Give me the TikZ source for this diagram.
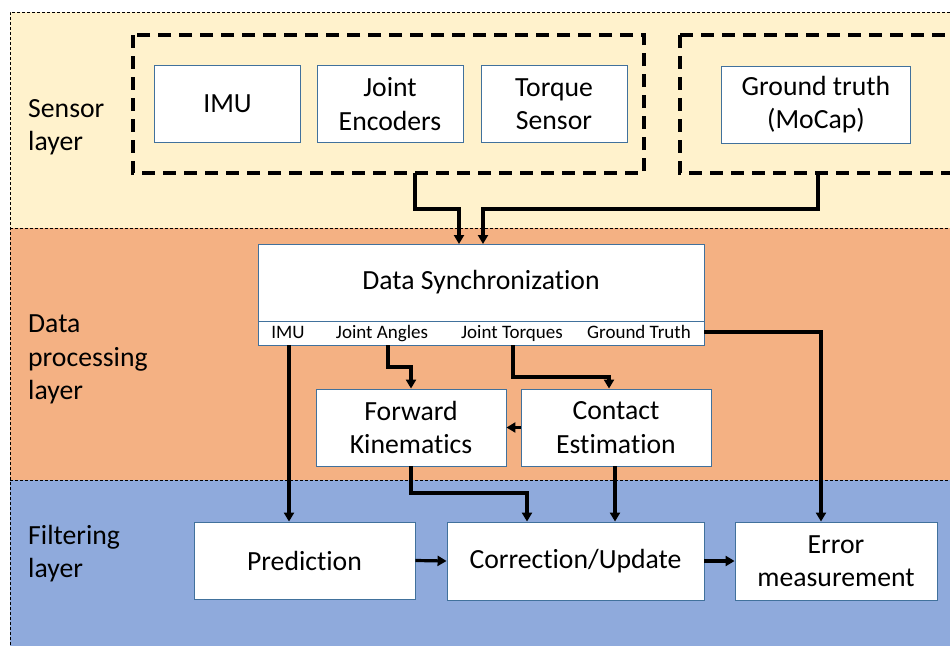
\documentclass[tikz,border=0pt]{standalone}
\usepackage{fontspec}
\setmainfont{Carlito}[Ligatures=NoCommon]
\usetikzlibrary{arrows.meta}
\definecolor{sensorbg}{HTML}{FFF2CC}
\definecolor{procbg}{HTML}{F4B183}
\definecolor{filtbg}{HTML}{8FAADC}
\definecolor{boxline}{HTML}{41719C}
\tikzset{
  layerline/.style={draw=black, line width=0.9pt, dash pattern=on 3pt off 2pt},
  groupline/.style={draw=black, line width=3.5pt, dash pattern=on 13pt off 8pt},
  blk/.style={draw=boxline, line width=0.9pt, fill=white, align=center, inner sep=0pt,
    font=\fontsize{27.7}{33.5}\selectfont},
  sublbl/.style={inner sep=0pt, font=\fontsize{19}{22}\selectfont, anchor=base},
  layerlbl/.style={inner sep=0pt, align=left, anchor=north west,
    font=\fontsize{27.7}{33.5}\selectfont},
  flow/.style={draw=black, line width=3.2pt, -{Triangle[length=9pt,width=10pt]}},
}
\begin{document}
\begin{tikzpicture}[x=1pt,y=-1pt]
\useasboundingbox (0,0) rectangle (950,645);
% layers
\fill[sensorbg] (10,12) rectangle (955,228);
\fill[procbg] (10,228) rectangle (955,480);
\fill[filtbg] (10,480) rectangle (955,650);
\draw[layerline] (955,12) -- (10,12) -- (10,650);
\draw[layerline] (10,228) -- (955,228);
\draw[layerline] (10,480) -- (955,480);
% layer labels
\node[layerlbl] (lsens) at (28,99) {Sensor\\layer};
\node[layerlbl] (lproc) at (28,315) {Data\\processing\\layer};
\node[layerlbl] (lfilt) at (28,525) {Filtering\\layer};
% sensor groups
\draw[groupline] (133,35) rectangle (644,173);
\draw[groupline] (680,35) -- (960,35);
\draw[groupline] (680,35) -- (680,173) -- (960,173);
\coordinate (g1) at (415,173);
\coordinate (g2) at (818,173);
% sensor boxes
\node[blk, minimum width=146, minimum height=77] (imu) at (227.5,104) {\raisebox{-2pt}{IMU}};
\node[blk, minimum width=146, minimum height=77] (enc) at (390,104) {Joint\\Encoders};
\node[blk, minimum width=146, minimum height=77] (torq) at (554,104) {Torque\\Sensor};
\node[blk, minimum width=189, minimum height=77] (gt) at (816,104.5) {Ground truth\\(MoCap)};
% data sync
\node[blk, minimum width=446, minimum height=77] (dsync) at (481,282.5) {\raisebox{-2pt}{Data Synchronization}};
\node[blk, minimum width=446, minimum height=24] (dsub) at (481,333) {};
\node[sublbl] (sImu) at (288,338.5) {IMU};
\node[sublbl] (sAng) at (382,338.5) {Joint Angles};
\node[sublbl] (sTor) at (512,338.5) {Joint Torques};
\node[sublbl] (sGt) at (639,338.5) {Ground Truth};
% processing boxes
\node[blk, minimum width=190, minimum height=77] (fk) at (411,427.5) {Forward\\Kinematics};
\node[blk, minimum width=190, minimum height=77] (ce) at (616,427.5) {Contact\\Estimation};
% filtering boxes
\node[blk, minimum width=221, minimum height=77] (pred) at (304.5,560.5) {\raisebox{-1pt}{Prediction}};
\node[blk, minimum width=257, minimum height=78] (corr) at (575.5,561) {\raisebox{-1pt}{Correction/Update}};
\node[blk, minimum width=202, minimum height=78] (err) at (836,561) {Error\\measurement};
% connectors
\draw[flow] (g1) -- (415,209) -- (459,209) -- (459,244);
\draw[flow] (g2) -- (818,209) -- (483,209) -- (483,244);
\draw[flow] (dsub.south -| 289,0) -- (pred.north -| 289,0);
\draw[flow] (dsub.south -| 388,0) -- (388,367) -- (411,367) -- (fk.north);
\draw[flow] (dsub.south -| 513,0) -- (513,377) -- (609,377) -- (ce.north -| 609,0);
\draw[flow] (dsub.east |- 0,332) -- (821,332) -- (err.north -| 821,0);
\draw[flow] (ce.west) -- (fk.east);
\draw[flow] (fk.south) -- (411,493) -- (527,493) -- (corr.north -| 527,0);
\draw[flow] (ce.south -| 615,0) -- (corr.north -| 615,0);
\draw[flow] (pred.east) -- (corr.west);
\draw[flow] (corr.east) -- (err.west);
\end{tikzpicture}
\end{document}
